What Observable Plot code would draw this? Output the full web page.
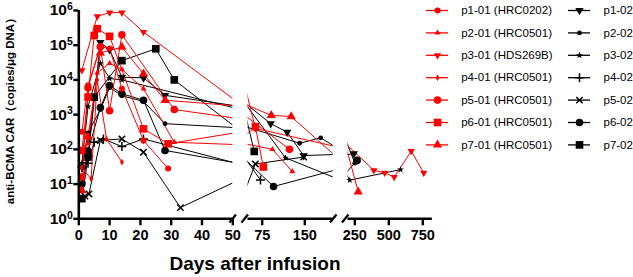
<!DOCTYPE html>
<html><head><meta charset="utf-8">
<script src="https://cdn.jsdelivr.net/npm/d3@7"></script>
<script src="https://cdn.jsdelivr.net/npm/@observablehq/plot@0.6"></script>
<style>
body{margin:0;background:#fff;}
#chart{position:relative;width:633px;height:277px;overflow:hidden;font-family:"Liberation Sans",Arial,sans-serif;background:#fff;}
#chart svg{position:absolute;top:0;overflow:visible;background:transparent;}
</style></head><body><div id="chart"></div>
<script>
// ---- data ----
const seriesNames = ["p1-01 (HRC0202)","p2-01 (HRC0501)","p3-01 (HDS269B)","p4-01 (HRC0501)","p5-01 (HRC0501)","p6-01 (HRC0501)","p7-01 (HRC0501)",
  "p1-02","p2-02","p3-02","p4-02","p5-02","p6-02","p7-02"];

const p1_01_day = [1, 3, 7, 10, 14, 21, 29];
const p1_01_val = [320, 7000, 90000, 80000, 5600, 180, 28];
const p2_01_day = [1, 3, 6, 10, 14, 21, 31, 93, 128];
const p2_01_val = [90, 150, 16000, 30000, 20000, 5600, 160, 100, 23];
const p3_01_day = [1, 6, 10, 14, 21, 63, 390, 470, 540, 665, 757];
const p3_01_val = [19000, 680000, 870000, 870000, 240000, 400, 25, 21, 16, 89, 21];
const p4_01_day = [1, 4, 6, 9, 14];
const p4_01_val = [30, 14, 10000, 200, 43];
const p5_01_day = [1, 3, 7, 10, 14, 31, 123];
const p5_01_val = [16, 6000, 90000, 1300, 200000, 1400, 100];
const p6_01_day = [1, 3, 5, 6, 10, 21, 29, 63, 77];
const p6_01_val = [93, 3200, 190000, 300000, 180000, 390, 145, 450, 31];
const p7_01_day = [1, 3, 7, 14, 21, 28, 91, 126, 275];
const p7_01_val = [6.5, 230, 60000, 88000, 15000, 2600, 950, 880, 6];

const p1_02_day = [1, 3, 7, 10, 14, 21, 28, 90, 119, 148, 243];
const p1_02_val = [10, 60, 120000, 74000, 12000, 11500, 3600, 550, 313, 66, 75];
const p2_02_day = [1, 3, 7, 10, 14, 21, 28, 141, 178, 250];
const p2_02_val = [30, 300, 1400, 6000, 3500, 2400, 550, 150, 215, 40];
const p3_02_day = [1, 3, 7, 10, 14, 116, 213, 586];
const p3_02_val = [40, 1700, 30000, 11000, 10000, 57, 13, 26];
const p4_02_day = [1, 3, 5, 8, 14, 21, 72];
const p4_02_val = [30, 40, 160, 200, 120, 200, 13];
const p5_02_day = [2, 3.3, 7, 14, 21, 33, 63, 148];
const p5_02_val = [4.5, 5.2, 180, 200, 83, 2.1, 38, 60];
const p6_02_day = [1, 3, 7, 10, 14, 21, 28, 95, 267];
const p6_02_val = [10, 90, 1600, 6900, 4000, 2600, 93, 8.5, 48];
const p7_02_day = [1, 3, 5, 14, 25, 31, 61];
const p7_02_val = [3.8, 60, 3200, 36000, 79000, 10000, 87];

const seriesDays = [p1_01_day,p2_01_day,p3_01_day,p4_01_day,p5_01_day,p6_01_day,p7_01_day,p1_02_day,p2_02_day,p3_02_day,p4_02_day,p5_02_day,p6_02_day,p7_02_day];
const seriesVals = [p1_01_val,p2_01_val,p3_01_val,p4_01_val,p5_01_val,p6_01_val,p7_01_val,p1_02_val,p2_02_val,p3_02_val,p4_02_val,p5_02_val,p6_02_val,p7_02_val];

const yTicks = [1, 10, 100, 1000, 10000, 100000, 1000000];
const xTicks1 = [0, 10, 20, 30, 40, 50];
const xTicks2 = [75, 150];
const xTicks3 = [250, 500, 750];
const xTitle = "Days after infusion";
const yTitle = "anti-BCMA CAR（copies/μg DNA）";

// ---- styles ----
const RED = "#ff0000", BLK = "#000000";
const styles = [
  {color:RED, symbol:"circle", r:3},
  {color:RED, symbol:"triangle", r:2.2},
  {color:RED, symbol:"triangle", r:2.7, rotate:180},
  {color:RED, symbol:"diamond", r:2},
  {color:RED, symbol:"circle", r:3.8},
  {color:RED, symbol:"square", r:4.3},
  {color:RED, symbol:"triangle", r:3.4},
  {color:BLK, symbol:"triangle", r:3.1, rotate:180},
  {color:BLK, symbol:"circle", r:2.4},
  {color:BLK, symbol:"star", r:2.2},
  {color:BLK, symbol:"plus", r:3, stroked:true},
  {color:BLK, symbol:"times", r:3, stroked:true},
  {color:BLK, symbol:"circle", r:3.8},
  {color:BLK, symbol:"square", r:4.3}
];

const series = seriesNames.map((name, k) => ({
  name, k,
  rows: seriesDays[k].map((day, i) => ({series: name, day, value: seriesVals[k][i]}))
}));

function dotOpts(st, extra) {
  const o = {symbol: st.symbol, r: st.r, ...extra};
  if (st.stroked) { o.stroke = st.color; o.fill = "none"; o.strokeWidth = 1.5; }
  else { o.fill = st.color; o.stroke = "none"; }
  if (st.rotate) o.rotate = st.rotate;
  return o;
}

const FONT = "Liberation Sans, Arial, Helvetica, sans-serif";
const chart = document.getElementById("chart");

const segs = [
  {domain:[0,50], left:0, ml:78.3, width:232.3, ticks:xTicks1},
  {domain:[50,200], left:240, ml:7.5, width:92.7, ticks:xTicks2},
  {domain:[200,820], left:340, ml:7.5, width:91.8, ticks:xTicks3}
];

const drawOrder = [7,8,9,10,11,12,13,0,1,2,3,4,5,6];

segs.forEach((s, si) => {
  const marks = [];
  drawOrder.forEach(k => {
    marks.push(Plot.line(series[k].rows, {x:"day", y:"value", stroke: styles[k].color, strokeWidth: 1, clip: true}));
  });
  drawOrder.forEach(k => {
    const inRows = series[k].rows.filter(d => d.day >= s.domain[0] && d.day <= s.domain[1]);
    marks.push(Plot.dot(inRows, dotOpts(styles[k], {x:"day", y:"value"})));
  });
  marks.push(Plot.ruleY([1], {stroke: BLK, strokeWidth: 2.6}));
  marks.push(Plot.axisX({ticks: s.ticks, tickSize: 7, tickPadding: 3.5, strokeWidth: 2.4, fontSize: 14.5, fontWeight: "bold", label: null, tickFormat: d => String(d)}));
  if (si === 0) {
    marks.push(Plot.ruleX([0], {stroke: BLK, strokeWidth: 2.6}));
    marks.push(Plot.axisY({ticks: yTicks, tickSize: 5, tickPadding: 1, strokeWidth: 2.4, fontSize: 15.5, fontWeight: "bold", label: null,
      tickFormat: d => "10^" + Math.round(Math.log10(d))}));
  }
  const yOpt = {type: "log", domain: [1, 1e6]};
  if (si !== 0) yOpt.axis = null;
  const svg = Plot.plot({
    width: s.width, height: 277,
    marginLeft: s.ml, marginRight: 0, marginTop: 10, marginBottom: 58.7,
    x: {domain: s.domain, axis: null},
    y: yOpt,
    style: {fontFamily: FONT, fontWeight: "bold", background: "transparent", color: "#000"},
    marks
  });
  svg.style.left = s.left + "px";
  // superscript exponents on y tick labels
  svg.querySelectorAll('g[aria-label="y-axis tick label"] text').forEach(t => {
    const parts = t.textContent.split("^");
    if (parts.length === 2) {
      t.textContent = "";
      const a = document.createElementNS("http://www.w3.org/2000/svg", "tspan");
      a.textContent = parts[0];
      const b = document.createElementNS("http://www.w3.org/2000/svg", "tspan");
      b.textContent = parts[1];
      b.setAttribute("dy", "-0.5em");
      b.setAttribute("font-size", "10.5px");
      t.appendChild(a); t.appendChild(b);
    }
  });
  chart.appendChild(svg);
});

// ---- legend ----
const legendRows = series.map(s => {
  const col = s.k < 7 ? 0 : 1, row = s.k % 7;
  const lx = col ? 568 : 426;
  return {k: s.k, name: s.name, lx1: lx, lx2: lx + 22, cx: lx + 11, tx: col ? 603 : 460.7, ly: 10 + 22.4 * row};
});
const legMarks = [];
legendRows.forEach(d => {
  const st = styles[d.k];
  legMarks.push(Plot.ruleY([d], {y: "ly", x1: "lx1", x2: "lx2", stroke: st.color, strokeWidth: 1.3}));
  legMarks.push(Plot.dot([d], dotOpts(st, {x: "cx", y: "ly"})));
});
legMarks.push(Plot.text(legendRows, {x: "tx", y: "ly", text: "name", textAnchor: "start", fontSize: 11.5, fill: "#000"}));
const legend = Plot.plot({
  width: 633, height: 277, margin: 0,
  x: {type: "identity", axis: null}, y: {type: "identity", axis: null},
  style: {fontFamily: FONT, background: "transparent"},
  marks: legMarks
});
legend.style.left = "0px";
chart.appendChild(legend);

// ---- overlay: axis breaks and titles ----
const ov = d3.select(chart).append("svg").attr("width", 633).attr("height", 277).style("left", "0px");
const breaks = [[229.5,236],[241.5,248],[330,336.5],[342,348.5]];
breaks.forEach(([x1, x2]) => {
  ov.append("line").attr("x1", x1).attr("y1", 222.5).attr("x2", x2).attr("y2", 214.5)
    .attr("stroke", "#000").attr("stroke-width", 2.2);
});
ov.append("text").attr("x", 255).attr("y", 270).attr("text-anchor", "middle")
  .attr("font-family", FONT).attr("font-weight", "bold").attr("font-size", 19).text(xTitle);
ov.append("text").attr("transform", "translate(14,108) rotate(-90)").attr("text-anchor", "middle")
  .attr("font-family", FONT).attr("font-weight", "bold").attr("font-size", 11.5).text(yTitle);
</script>
</body></html>
